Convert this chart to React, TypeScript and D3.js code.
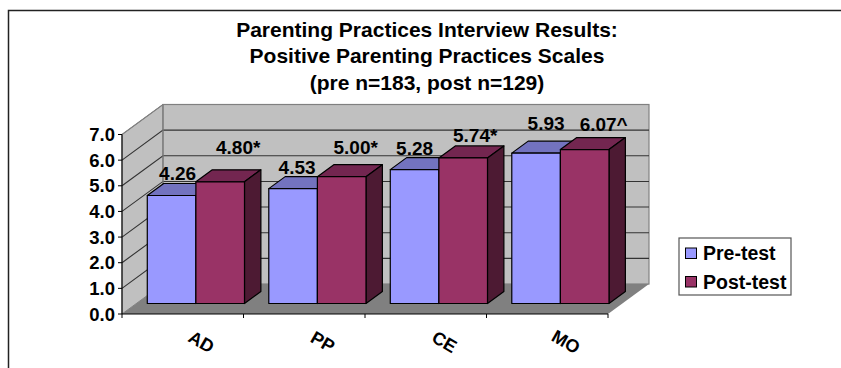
import React from "react";
import * as d3 from "d3";

const categories = ["AD", "PP", "CE", "MO"];
const preTest = [4.26, 4.53, 5.28, 5.93];
const postTest = [4.8, 5.0, 5.74, 6.07];
const preLabels = ["4.26", "4.53", "5.28", "5.93"];
const postLabels = ["4.80*", "5.00*", "5.74*", "6.07^"];
const yTicks = [0, 1, 2, 3, 4, 5, 6, 7];
const titleLines = [
  "Parenting Practices Interview Results:",
  "Positive Parenting Practices Scales",
  "(pre n=183, post n=129)",
];

// Hand-placed data label offsets, measured from the top centre of each bar.
const preNudge = [[6, -15], [4, -15], [0, -15], [10, -23]];
const postNudge = [[18, -28], [14, -23], [12, -16], [19, -19]];

const FONT = "'Liberation Sans', Arial, sans-serif";
const DEPTH_X = 41;
const DEPTH_Y = -30;
const BAR_NEAR = 0.35;
const BAR_FAR = 0.75;

const x = d3.scaleBand<string>().domain(categories).range([122, 608]);
const yFront = d3.scaleLinear().domain([0, 7]).range([314, 134.5]);
const barBase = 303.5;
const barY = d3.scaleLinear().domain([0, 7]).range([barBase, barBase - 177.5]);

const pts = (p: [number, number][]) => p.map((q) => q.join(",")).join(" ");

function Bar({ left, width, value, fill, top, side }: { left: number; width: number; value: number; fill: string; top: string; side: string }) {
  const yTop = barY(value);
  const d = (BAR_FAR - BAR_NEAR) * DEPTH_X;
  const e = (BAR_FAR - BAR_NEAR) * DEPTH_Y;
  const right = left + width;
  return (
    <g stroke="#000" strokeWidth={1.2} strokeLinejoin="round">
      <polygon fill={top} points={pts([[left, yTop], [right, yTop], [right + d, yTop + e], [left + d, yTop + e]])} />
      <polygon fill={side} points={pts([[right, yTop], [right + d, yTop + e], [right + d, barBase + e], [right, barBase]])} />
      <rect x={left} y={yTop} width={width} height={barBase - yTop} fill={fill} />
    </g>
  );
}

export default function App() {
  const band = x.bandwidth();
  const groupW = band * 0.8;
  const barW = groupW / 2;
  const groupLeft = (c: string) => (x(c) as number) + band * 0.09 + BAR_NEAR * DEPTH_X;
  const x0 = 122;
  const x1 = 608;
  const y0 = yFront(0);
  const y7 = yFront(7);

  return (
    <svg width={841} height={368} style={{ position: "absolute", left: 0, top: 0, background: "#fff" }} fontFamily={FONT} fontWeight="bold">
      {/* Chart frame: only the top and left edges fall inside the view */}
      <path d="M8.5,368V10.5H841" fill="none" stroke="#222" strokeWidth={1.5} />

      {titleLines.map((t, i) => (
        <text key={t} x={427} y={36.7 + i * 26.7} fontSize={21} textAnchor="middle" fill="#000">{t}</text>
      ))}

      {/* Side wall, back wall and floor */}
      <polygon points={pts([[x0, y7], [x0 + DEPTH_X, y7 + DEPTH_Y], [x0 + DEPTH_X, y0 + DEPTH_Y], [x0, y0]])} fill="#c0c0c0" stroke="#808080" />
      <rect x={x0 + DEPTH_X} y={y7 + DEPTH_Y} width={x1 - x0} height={y0 - y7} fill="#c0c0c0" stroke="#808080" strokeWidth={1.2} />
      <polygon points={pts([[x0, y0], [x1, y0], [x1 + DEPTH_X, y0 + DEPTH_Y], [x0 + DEPTH_X, y0 + DEPTH_Y]])} fill="#808080" />

      {/* Gridlines folded across side and back walls */}
      {yTicks.slice(1).map((t) => (
        <polyline
          key={t}
          points={pts([[x0, yFront(t)], [x0 + DEPTH_X, yFront(t) + DEPTH_Y], [x1 + DEPTH_X, yFront(t) + DEPTH_Y]])}
          fill="none"
          stroke={t === 7 ? "#808080" : "#333"}
          strokeWidth={1.1}
        />
      ))}
      <line x1={x0 + DEPTH_X} x2={x0 + DEPTH_X} y1={y7 + DEPTH_Y} y2={y0 + DEPTH_Y} stroke="#808080" strokeWidth={1.2} />

      {categories.map((c, i) => (
        <g key={c}>
          <Bar left={groupLeft(c)} width={barW} value={preTest[i]} fill="#9999ff" top="#7373bf" side="#4d4d80" />
          <Bar left={groupLeft(c) + barW} width={barW} value={postTest[i]} fill="#993366" top="#732650" side="#4d1a33" />
        </g>
      ))}

      {/* Value axis */}
      <line x1={x0} x2={x0} y1={y7} y2={y0} stroke="#000" strokeWidth={1.1} />
      {yTicks.map((t) => (
        <g key={t}>
          <line x1={x0 - 4} x2={x0} y1={yFront(t)} y2={yFront(t)} stroke="#000" />
          <text x={115} y={yFront(t) + 6.5} fontSize={18.5} textAnchor="end" fill="#000">{t.toFixed(1)}</text>
        </g>
      ))}

      {/* Category axis */}
      <line x1={x0} x2={x1} y1={y0} y2={y0} stroke="#000" strokeWidth={1.2} />
      {[...categories.map((c) => x(c) as number), x1].map((v) => (
        <line key={v} x1={v} x2={v} y1={y0} y2={y0 + 4} stroke="#000" />
      ))}
      {categories.map((c) => (
        <text key={c} y={6} fontSize={18} textAnchor="middle" fill="#000"
          transform={`translate(${(x(c) as number) + band / 2 + 18.5},342) rotate(30)`}>{c}</text>
      ))}

      {/* Data labels */}
      {categories.map((c, i) => (
        <g key={c} fontSize={19} textAnchor="middle" fill="#000">
          <text x={groupLeft(c) + barW / 2 + preNudge[i][0]} y={barY(preTest[i]) + preNudge[i][1]}>{preLabels[i]}</text>
          <text x={groupLeft(c) + barW * 1.5 + postNudge[i][0]} y={barY(postTest[i]) + postNudge[i][1]}>{postLabels[i]}</text>
        </g>
      ))}

      {/* Legend */}
      <rect x={679} y={238} width={112} height={57} fill="#fff" stroke="#555" strokeWidth={1.2} />
      <rect x={685.5} y={248} width={11} height={10.5} fill="#9999ff" stroke="#000" />
      <rect x={685.5} y={276.5} width={11} height={10.5} fill="#993366" stroke="#000" />
      <text x={703} y={260} fontSize={19.5}>Pre-test</text>
      <text x={703} y={289} fontSize={19.5}>Post-test</text>
    </svg>
  );
}
